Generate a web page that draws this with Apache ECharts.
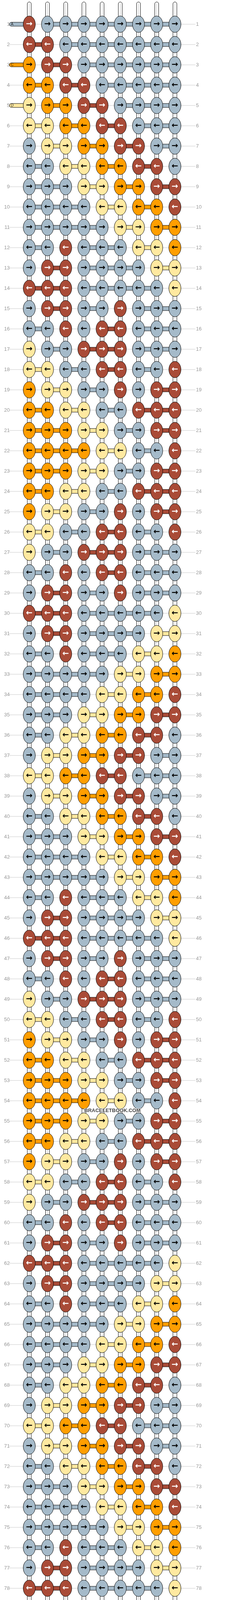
<!DOCTYPE html>
<html><head><meta charset="utf-8">
<script src="https://cdn.jsdelivr.net/npm/echarts@6/dist/echarts.min.js"></script>
<style>html,body{margin:0;padding:0;background:#fff}#c{width:584px;height:5636px}</style>
</head><body><div id="c"></div>
<script>
// Knot colours per row (G=grey-blue, R=brown, O=orange, Y=yellow), rows 1..107, 9 knots each
const rows = [
"RGGGGGGGG","RRGGGGGGG","ORRGGGGGG","OORRGGGGG","YOORRGGGG",
"YYOORRGGG","GYYOORRGG","GGYYOORRG","GGGYYOORR","GGGGYYOOR",
"GGGGGYYOO","GGRGGGYYO","GRRGGGGYY","RRRGGGGGY","GRRGGRGGG",
"GGRGRRGGG","YGGRRRGGG","YYGGRRGGR","OYYGGRGRR","OOYYGGRRR",
"OOOYYGGRR","OOOOYYGGR","OOOYYGGRR","OOYYGGRRR","OYYGGRGRR",
"YYGGRRGGR","YGGRRRGGG","GGRGRRGGG","GRRGGRGGG","RRRGGGGGY",
"GRRGGGGYY","GGRGGGYYO","GGGGGYYOO","GGGGYYOOR","GGGYYOORR",
"GGYYOORRG","GYYOORRGG",
"YYOORRGGG","GYYOORRGG","GGYYOORRG","GGGYYOORR","GGGGYYOOR",
"GGGGGYYOO","GGRGGGYYO","GRRGGGGYY","RRRGGGGGY","GRRGGRGGG",
"GGRGRRGGG","YGGRRRGGG","YYGGRRGGR","OYYGGRGRR","OOYYGGRRR",
"OOOYYGGRR","OOOOYYGGR","OOOYYGGRR","OOYYGGRRR","OYYGGRGRR",
"YYGGRRGGR","YGGRRRGGG","GGRGRRGGG","GRRGGRGGG","RRRGGGGGY",
"GRRGGGGYY","GGRGGGYYO","GGGGGYYOO","GGGGYYOOR","GGGYYOORR",
"GGYYOORRG","GYYOORRGG",
"YYOORRGGG","GYYOORRGG","GGYYOORRG","GGGYYOORR","GGGGYYOOR",
"GGGGGYYOO","GGRGGGYYO","GRRGGGGYY","RRRGGGGGY","GRRGGRGGG",
"GGRGRRGGG","YGGRRRGGG","YYGGRRGGR","OYYGGRGRR","OOYYGGRRR",
"OOOYYGGRR","OOOOYYGGR","OOOYYGGRR","OOYYGGRRR","OYYGGRGRR",
"YYGGRRGGR","YGGRRRGGG","GGRGRRGGG","GRRGGRGGG","RRRGGGGGY",
"GRRGGGGYY","GGRGGGYYO","GGGGGYYOO","GGGGYYOOR","GGGYYOORR",
"GGYYOORRG","GYYOORRGG",
"YYOORRGGG","YOORRGGGG","OORRGGGGG","ORRGGGGGG","RRGGGGGGG","RGGGGGGGG"
];
const rowLabels = rows.map((_, i) => String(i + 1));
const leftStubs = [[1, "A", "G"], [3, "C", "O"], [5, "D", "Y"]];
const rightStubs = [[103, "D", "Y"], [105, "C", "O"], [107, "A", "G"]];
const colors = {G: "#a5bac9", R: "#a94b37", O: "#ff9e00", Y: "#ffe9a0"};

const knots = [], bars = [];
rows.forEach((s, i) => {
  for (let c = 0; c < 9; c++) {
    knots.push([c, i + 1, s[c]]);
    if (c < 8 && s[c] === s[c + 1]) bars.push([c, i + 1, s[c]]);
  }
});
const cols = [0,1,2,3,4,5,6,7,8].map(c => [c]);
const rowLines = rows.map((_, i) => [i + 1]);

const chart = echarts.init(document.getElementById('c'), null, {renderer: 'canvas'});
chart.setOption({
  animation: false,
  grid: {left: 75, width: 373, top: 62, height: 5512},
  xAxis: {type: 'value', min: 0, max: 8, show: false},
  yAxis: [
    {type: 'value', min: 1, max: 107, interval: 1, inverse: true, position: 'left',
     axisLine: {show: false}, axisTick: {show: false}, splitLine: {show: false},
     axisLabel: {margin: 50, color: '#999', fontSize: 13, fontFamily: 'Liberation Sans'}},
    {type: 'value', min: 1, max: 107, interval: 1, inverse: true, position: 'right',
     axisLine: {show: false}, axisTick: {show: false}, splitLine: {show: false},
     axisLabel: {margin: 54, color: '#999', fontSize: 13, fontFamily: 'Liberation Sans'}}
  ],
  series: [
    {
      type: 'custom', data: rowLines, z: 1,
      renderItem: (p, api) => {
        const a = api.coord([-1.12, api.value(0)]), b = api.coord([9.12, api.value(0)]);
        return {type: 'line', shape: {x1: a[0], y1: a[1], x2: b[0], y2: b[1]}, style: {stroke: '#c8c8c8', lineWidth: 1}};
      }
    },
    {
      type: 'custom', data: cols, z: 2,
      renderItem: (p, api) => {
        const x = api.coord([api.value(0), 1])[0];
        return {type: 'group', children: [
          {type: 'rect', shape: {x: x - 5, y: 5, width: 10, height: 5625, r: 5}, style: {fill: '#fff', stroke: '#000', lineWidth: 1}},
          {type: 'line', shape: {x1: x, y1: 10, x2: x, y2: 5625}, style: {stroke: '#bbb', lineWidth: 1}}
        ]};
      }
    },
    {
      type: 'custom', z: 3,
      data: leftStubs.map(s => [-1, s[0], s[1], s[2]]).concat(rightStubs.map(s => [9, s[0], s[1], s[2]])),
      renderItem: (p, api) => {
        const side = api.value(0), r = api.value(1), lab = api.value(2), col = colors[api.value(3)];
        const y = api.coord([0, r])[1];
        let x0, x1, tx;
        if (side < 0) { x0 = 24; x1 = 70; tx = 31; } else { x0 = 455; x1 = 500; tx = 492; }
        return {type: 'group', children: [
          {type: 'rect', shape: {x: x0, y: y - 5, width: x1 - x0, height: 10, r: 5}, style: {fill: col, stroke: '#000', lineWidth: 1}},
          {type: 'text', style: {x: tx, y: y, text: lab, fill: '#222', fontSize: 10, fontFamily: 'Liberation Sans',
            align: side < 0 ? 'center' : 'right', verticalAlign: 'middle'}}
        ]};
      }
    },
    {
      type: 'custom', data: bars, z: 4,
      renderItem: (p, api) => {
        const a = api.coord([api.value(0), api.value(1)]), b = api.coord([api.value(0) + 1, api.value(1)]);
        return {type: 'rect', shape: {x: a[0], y: a[1] - 5, width: b[0] - a[0], height: 10},
          style: {fill: colors[api.value(2)], stroke: '#000', lineWidth: 1}};
      }
    },
    {
      type: 'custom', data: knots, z: 5,
      renderItem: (p, api) => {
        const c = api.coord([api.value(0), api.value(1)]);
        const k = api.value(2), r = api.value(1);
        return {type: 'group', children: [
          {type: 'ellipse', shape: {cx: c[0], cy: c[1], rx: 15.5, ry: 21}, style: {fill: colors[k], stroke: '#000', lineWidth: 1}},
          {type: 'text', style: {x: c[0], y: c[1], text: r % 2 ? '→' : '←', fill: k === 'R' ? '#fff' : '#000',
            fontSize: 20, fontWeight: 'bold', fontFamily: 'DejaVu Sans', align: 'center', verticalAlign: 'middle'}}
        ]};
      }
    }
  ],
  graphic: [{type: 'text', left: 215, top: 2836, z: 100,
    style: {text: 'BRACELETBOOK.COM', fill: '#444', fontSize: 13, fontWeight: 'bold', fontFamily: 'Liberation Sans',
      stroke: '#fff', lineWidth: 2}}]
});
</script></body></html>
